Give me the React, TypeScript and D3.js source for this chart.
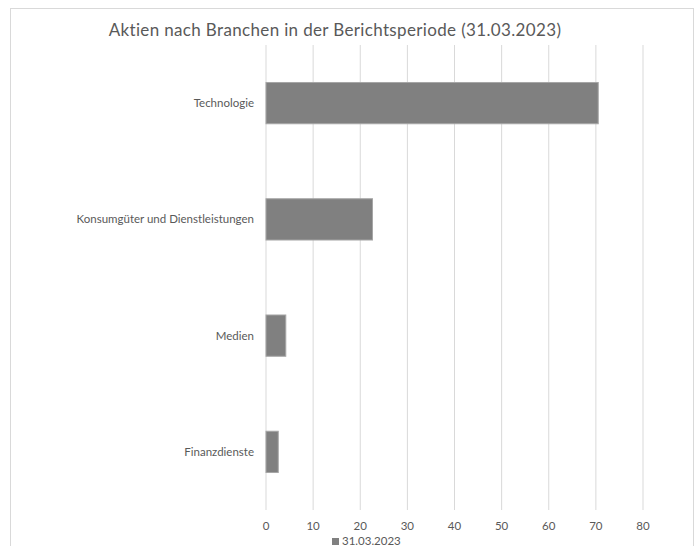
import React from "react";
import * as d3 from "d3";

const categories = ["Technologie", "Konsumgüter und Dienstleistungen", "Medien", "Finanzdienste"];
const values = [70.5, 22.6, 4.2, 2.6];
const xTicks = [0, 10, 20, 30, 40, 50, 60, 70, 80];
const seriesName = "31.03.2023";
const title = "Aktien nach Branchen in der Berichtsperiode (31.03.2023)";

export default function App() {
  const W = 697, H = 546;
  const x = d3.scaleLinear().domain([0, 80]).range([266, 643]);
  const y = d3.scaleBand().domain(categories).range([45, 510]).paddingInner(0.645).paddingOuter(0.3225);
  const font = "Lato, 'Open Sans', sans-serif";
  const txt = "#595959";
  return (
    <svg width={W} height={H} style={{ position: "absolute", left: 0, top: 0 }} fontFamily={font}>
      <rect x={0} y={0} width={W} height={H} fill="#fff" />
      <rect x={10.5} y={8.5} width={683} height={560} fill="none" stroke="#d9d9d9" />
      <text x={335} y={36} textAnchor="middle" fontSize={17} letterSpacing={0.35} fill={txt}>{title}</text>
      {xTicks.map(t => (
        <g key={t}>
          <line x1={x(t)} x2={x(t)} y1={45} y2={510} stroke="#d9d9d9" strokeWidth={1} />
          <text x={x(t)} y={530} textAnchor="middle" fontSize={11.5} fill={txt}>{t}</text>
        </g>
      ))}
      {categories.map((c, i) => (
        <g key={c}>
          <rect x={x(0)} y={y(c)!} width={x(values[i]) - x(0)} height={y.bandwidth()} fill="#808080" stroke="#a6a6a6" strokeWidth={1} />
          <text x={254} y={y(c)! + y.bandwidth() / 2} dy="0.35em" textAnchor="end" fontSize={11.5} fill={txt}>{c}</text>
        </g>
      ))}
      <rect x={332} y={538} width={7} height={7} fill="#808080" />
      <text x={342} y={545} fontSize={11.5} fill={txt}>{seriesName}</text>
    </svg>
  );
}
